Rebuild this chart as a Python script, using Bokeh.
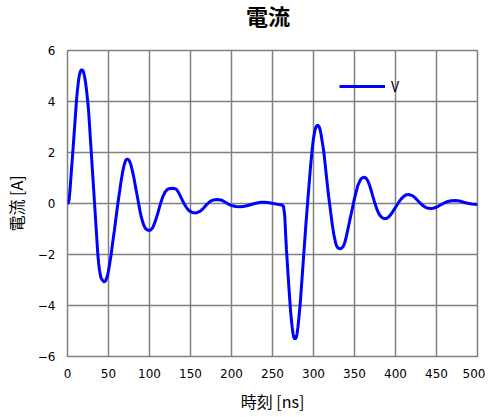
from bokeh.plotting import figure
from bokeh.embed import file_html
from bokeh.resources import INLINE
from bokeh.layouts import column
from bokeh.models import Range1d, FixedTicker, Legend, LegendItem, Div

# time [ns]
t_ns = [0, 1, 2, 3, 4, 5, 6, 7, 8, 9, 10, 11, 12, 13, 14, 15, 16, 17.5, 19, 20,
        21, 22, 23, 24, 25, 26, 27, 28, 29, 30, 31, 32, 33, 34, 35, 36, 37, 38, 39, 40,
        41, 43, 45, 47, 49, 51, 53, 55, 57, 59, 61, 63, 65, 67, 69, 71, 73, 75, 77, 79,
        81, 83, 85, 87, 89, 91, 93, 95, 98, 101, 104, 107, 110, 113, 116, 119, 122, 125, 129, 133,
        136, 139, 142, 145, 148, 152, 157, 162, 166, 170, 174, 178, 183, 188, 192, 196, 200, 205, 211, 216,
        221, 226, 231, 236, 241, 246, 251, 256, 260, 262, 263.5, 265, 266, 267, 268, 269, 270, 271, 272, 273,
        274, 275, 276, 277.5, 279, 280, 281, 282, 283, 284, 285, 286, 287, 288, 289, 290, 291, 292, 293, 294,
        295, 296, 297, 298, 299, 300, 301, 302, 303, 305, 307, 308, 309, 310, 311, 312, 313, 314, 315, 316,
        317, 318, 319, 320, 321, 322, 323, 324, 325, 326, 327, 328, 330, 333, 336, 338, 340, 342, 344, 346,
        348, 350, 352, 354, 356, 358, 361, 364, 366, 368, 370, 372, 374, 376, 378, 380, 383, 386, 389, 392,
        395, 398, 401, 404, 407, 410, 413, 417, 421, 424, 427, 430, 433, 436, 440, 444, 448, 452, 456, 460,
        464, 468, 473, 478, 483, 488, 493, 500]

# current V [A]
current_v = [0, 0.02, 0.15, 0.5, 0.95, 1.4, 1.8, 2.25, 2.7, 3.15, 3.6, 4.05, 4.4, 4.7, 4.95, 5.1, 5.2, 5.25, 5.2, 5.1,
             4.95, 4.75, 4.5, 4.2, 3.9, 3.5, 3.0, 2.5, 2.0, 1.5, 1.0, 0.5, 0.0, -0.5, -1.0, -1.5, -2.0, -2.35, -2.6, -2.8,
             -2.93, -3.02, -3.08, -3.0, -2.8, -2.45, -2.05, -1.55, -1.1, -0.6, -0.1, 0.35, 0.8, 1.2, 1.5, 1.7, 1.75, 1.7, 1.55, 1.3,
             1.0, 0.65, 0.3, -0.05, -0.4, -0.65, -0.85, -0.98, -1.05, -1.05, -0.95, -0.7, -0.4, -0.05, 0.25, 0.45, 0.56, 0.59, 0.6, 0.55,
             0.4, 0.2, 0.0, -0.15, -0.28, -0.35, -0.37, -0.3, -0.18, -0.03, 0.08, 0.14, 0.16, 0.13, 0.06, -0.02, -0.08, -0.12, -0.13, -0.11,
             -0.07, -0.02, 0.02, 0.05, 0.05, 0.03, 0.0, -0.03, -0.05, -0.07, -0.12, -0.5, -1.2, -1.8, -2.3, -2.8, -3.3, -3.75, -4.2, -4.55,
             -4.85, -5.1, -5.25, -5.32, -5.25, -5.1, -4.85, -4.55, -4.2, -3.85, -3.4, -2.95, -2.5, -2.05, -1.6, -1.15, -0.7, -0.3, 0.1, 0.5,
             0.9, 1.3, 1.65, 2.0, 2.3, 2.55, 2.75, 2.9, 3.0, 3.08, 3.0, 2.9, 2.75, 2.55, 2.35, 2.15, 1.9, 1.6, 1.3, 1.0,
             0.7, 0.4, 0.15, -0.1, -0.35, -0.6, -0.85, -1.05, -1.25, -1.4, -1.55, -1.65, -1.75, -1.78, -1.7, -1.55, -1.3, -1.0, -0.7, -0.4,
             -0.1, 0.2, 0.45, 0.7, 0.85, 0.97, 1.03, 1.0, 0.9, 0.75, 0.55, 0.32, 0.1, -0.1, -0.28, -0.42, -0.54, -0.59, -0.59, -0.52,
             -0.4, -0.25, -0.1, 0.05, 0.18, 0.28, 0.34, 0.35, 0.3, 0.22, 0.12, 0.02, -0.07, -0.14, -0.19, -0.2, -0.17, -0.11, -0.04, 0.03,
             0.08, 0.11, 0.12, 0.1, 0.05, 0.01, -0.02, -0.04]

x_ticks = [0, 50, 100, 150, 200, 250, 300, 350, 400, 450, 500]
y_ticks = [-6, -4, -2, 0, 2, 4, 6]
y_tick_labels = {-6: "\u22126", -4: "\u22124", -2: "\u22122", 0: "0", 2: "2", 4: "4", 6: "6"}

title_text = "電流"
x_label = "時刻 [ns]"
y_label = "電流 [A]"
series_name = "V"

JP = "Noto Sans CJK JP"
GRID = "#808080"

title_div = Div(text=title_text, width=410, height=30, margin=(0, 8, 0, 63),
                styles={"font-family": "'Noto Sans CJK JP'", "font-size": "22px",
                        "font-weight": "bold", "text-align": "center",
                        "line-height": "30px", "color": "black"})

p = figure(frame_width=410, frame_height=306, output_backend="svg", toolbar_location=None,
           x_range=Range1d(0, 500), y_range=Range1d(-6, 6),
           min_border_left=63, min_border_right=8, min_border_top=20, min_border_bottom=0)

p.background_fill_color = "white"
p.border_fill_color = "white"
p.outline_line_color = GRID
p.outline_line_width = 1.5

p.xaxis.ticker = FixedTicker(ticks=x_ticks)
p.yaxis.ticker = FixedTicker(ticks=y_ticks)
p.yaxis.major_label_overrides = y_tick_labels

for ax in (p.xaxis[0], p.yaxis[0]):
    ax.axis_line_color = None
    ax.major_tick_line_color = None
    ax.minor_tick_line_color = None
    ax.major_label_text_font = "DejaVu Sans"
    ax.major_label_text_font_size = "12px"
    ax.major_label_text_color = "black"
    ax.axis_label_text_font = JP
    ax.axis_label_text_font_size = "16px"
    ax.axis_label_text_font_style = "normal"
    ax.axis_label_text_color = "black"

p.xaxis.axis_label = x_label
p.yaxis.axis_label = y_label
p.xaxis.major_label_standoff = 6
p.yaxis.major_label_standoff = 6
p.xaxis.axis_label_standoff = 8
p.yaxis.axis_label_standoff = 7

p.xgrid.grid_line_color = GRID
p.ygrid.grid_line_color = GRID
p.xgrid.grid_line_width = 1.5
p.ygrid.grid_line_width = 1.5

r = p.line(t_ns, current_v, line_color="#0000ff", line_width=3)

legend = Legend(items=[LegendItem(label=series_name, renderers=[r])],
                location=(272, 260), orientation="vertical",
                border_line_color=None, background_fill_alpha=0,
                padding=0, margin=0, glyph_width=46, glyph_height=20,
                label_standoff=6, label_text_font=JP, label_text_font_size="14px",
                label_text_color="black", label_height=20)
p.add_layout(legend, "center")

layout = column(title_div, p, spacing=0)

open("out.html", "w").write(file_html(layout, INLINE))
